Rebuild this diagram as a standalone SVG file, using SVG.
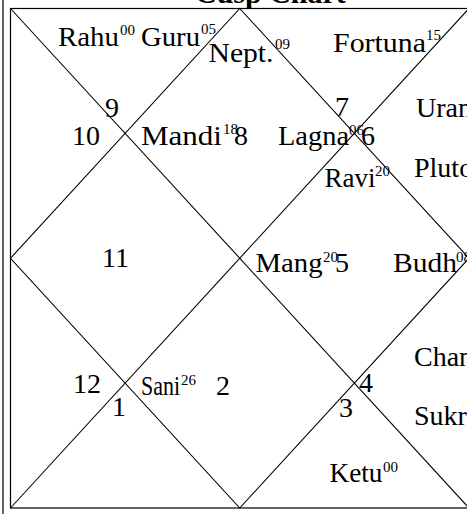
<svg xmlns="http://www.w3.org/2000/svg" width="467" height="514" viewBox="0 0 467 514">
<style>
.t{font-family:"Liberation Serif","Times New Roman",serif;font-size:28px;fill:#000}
.s{font-size:15px}
.ti{font-family:"Liberation Serif","Times New Roman",serif;font-size:30px;font-weight:bold;fill:#000}
.fr{fill:none;stroke:#000;stroke-width:1.2}
.ln{fill:none;stroke:#000;stroke-width:1.1}
</style>
<rect width="467" height="514" fill="#fff"/>
<text class="ti" x="195" y="3">Cusp Chart</text>
<g id="frame">
<rect class="fr" x="3" y="-40" width="480" height="570"/>
<rect class="fr" x="10.5" y="8.5" width="458.5" height="499.5" stroke-width="1.6"/>
</g>
<g id="connectors">
<line class="ln" x1="10.5" y1="8.5" x2="469" y2="508"/>
<line class="ln" x1="469" y1="8.5" x2="10.5" y2="508"/>
<polygon class="ln" points="239.75,8.5 469,258.25 239.75,508 10.5,258.25"/>
</g>
<g id="house-9">
<text class="t" x="58" y="46" textLength="61" lengthAdjust="spacingAndGlyphs">Rahu</text><text class="t s" x="120" y="35">00</text>
<text class="t" x="141" y="46" textLength="59" lengthAdjust="spacingAndGlyphs">Guru</text><text class="t s" x="201" y="34">05</text>
<text class="t" x="105" y="117">9</text>
</g>
<g id="house-10">
<text class="t" x="72" y="145">10</text>
</g>
<g id="house-8">
<text class="t" x="208.5" y="62" textLength="65" lengthAdjust="spacingAndGlyphs">Nept.</text><text class="t s" x="275" y="49">09</text>
<text class="t" x="141" y="145" textLength="81" lengthAdjust="spacingAndGlyphs">Mandi</text><text class="t s" x="223" y="134">18</text>
<text class="t" x="234" y="145">8</text>
<text class="t" x="278" y="145" textLength="71" lengthAdjust="spacingAndGlyphs">Lagna</text><text class="t s" x="349" y="135">06</text>
</g>
<g id="house-7">
<text class="t" x="333" y="52" textLength="93" lengthAdjust="spacingAndGlyphs">Fortuna</text><text class="t s" x="426" y="40">15</text>
<text class="t" x="335" y="116">7</text>
</g>
<g id="house-6">
<text class="t" x="361" y="145">6</text>
<text class="t" x="416" y="117">Uranus</text>
<text class="t" x="414" y="177">Pluto</text>
</g>
<g id="house-5">
<text class="t" x="324.5" y="187" textLength="51" lengthAdjust="spacingAndGlyphs">Ravi</text><text class="t s" x="375" y="176">20</text>
<text class="t" x="255.5" y="272" textLength="67" lengthAdjust="spacingAndGlyphs">Mang</text><text class="t s" x="323" y="262">20</text>
<text class="t" x="335" y="272">5</text>
<text class="t" x="393" y="272" textLength="64" lengthAdjust="spacingAndGlyphs">Budh</text><text class="t s" x="456" y="262">08</text>
</g>
<g id="house-11">
<text class="t" x="102" y="267">11</text>
</g>
<g id="house-12">
<text class="t" x="73" y="393">12</text>
</g>
<g id="house-1">
<text class="t" x="112" y="416">1</text>
</g>
<g id="house-2">
<text class="t" x="141" y="395" textLength="39" lengthAdjust="spacingAndGlyphs">Sani</text><text class="t s" x="181" y="385">26</text>
<text class="t" x="216" y="395">2</text>
</g>
<g id="house-3">
<text class="t" x="339" y="417">3</text>
<text class="t" x="329.5" y="482" textLength="53" lengthAdjust="spacingAndGlyphs">Ketu</text><text class="t s" x="383" y="472">00</text>
</g>
<g id="house-4">
<text class="t" x="359" y="392">4</text>
<text class="t" x="414" y="366">Chandra</text>
<text class="t" x="414" y="425">Sukra</text>
</g>
</svg>
